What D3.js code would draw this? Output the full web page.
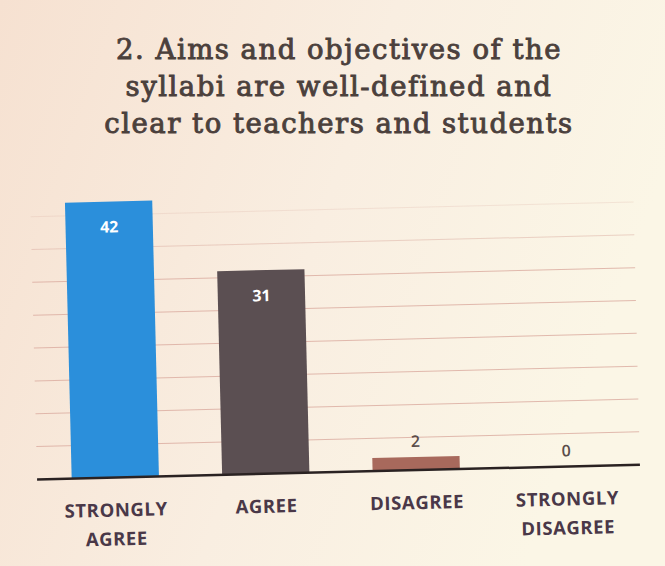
<!DOCTYPE html>
<html>
<head>
<meta charset="utf-8">
<script src="https://cdn.jsdelivr.net/npm/d3@7"></script>
<style>
  body { margin: 0; }
  svg { display: block; }
</style>
</head>
<body>
<svg id="chart" width="665" height="566"></svg>
<script>
// data
const categories = [["STRONGLY", "AGREE"], ["AGREE"], ["DISAGREE"], ["STRONGLY", "DISAGREE"]];
const values = [42, 31, 2, 0];
const barColors = ["#2b8fdb", "#5b4f52", "#a8695c", "#888888"];
const gridTicks = [5, 10, 15, 20, 25, 30, 35, 40];
const titleLines = ["2. Aims and objectives of the", "syllabi are well-defined and", "clear to teachers and students"];

const width = 665, height = 566;
const svg = d3.select("svg#chart");

// photo-ish background
const defs = svg.append("defs");
const bg = defs.append("linearGradient").attr("id", "bg")
  .attr("x1", "0").attr("y1", "0").attr("x2", "1").attr("y2", "0.3");
bg.append("stop").attr("offset", "0").attr("stop-color", "#f6e1d1");
bg.append("stop").attr("offset", "0.55").attr("stop-color", "#f9eee1");
bg.append("stop").attr("offset", "1").attr("stop-color", "#fbf6e6");
svg.append("rect").attr("width", width).attr("height", height).attr("fill", "url(#bg)");

// title
svg.append("g").selectAll("text")
  .data(titleLines)
  .join("text")
  .attr("x", 339)
  .attr("y", (d, i) => 59 + i * 37)
  .attr("text-anchor", "middle")
  .attr("font-family", "'DejaVu Serif', 'Liberation Serif', serif")
  .attr("font-size", 27.5)
  .attr("letter-spacing", 1.5)
  .attr("fill", "#4b403c")
  .attr("stroke", "#4b403c")
  .attr("stroke-width", 0.9)
  .text(d => d);

// plot, tilted a little like the photo
const baseY = 472;
const plot = svg.append("g").attr("transform", "rotate(-1.4, 340, " + baseY + ")");

const x = d3.scaleBand()
  .domain(d3.range(values.length))
  .range([40, 642])
  .paddingInner(0.42)
  .paddingOuter(0.21);

const y = d3.scaleLinear()
  .domain([0, 45])
  .range([baseY, baseY - 45 * 6.57]);

// gridlines
plot.append("g").selectAll("line")
  .data(gridTicks)
  .join("line")
  .attr("x1", 37).attr("x2", 640)
  .attr("y1", d => y(d)).attr("y2", d => y(d))
  .attr("stroke", "#dcaea2")
  .attr("stroke-opacity", d => d >= 40 ? 0.25 : (d >= 35 ? 0.5 : 0.85))
  .attr("stroke-width", 1);

// bars
plot.append("g").selectAll("rect")
  .data(values)
  .join("rect")
  .attr("x", (d, i) => x(i))
  .attr("y", d => y(d))
  .attr("width", x.bandwidth())
  .attr("height", d => y(0) - y(d))
  .attr("fill", (d, i) => barColors[i]);

// baseline
plot.append("line")
  .attr("x1", 37).attr("x2", 640)
  .attr("y1", y(0)).attr("y2", y(0))
  .attr("stroke", "#2a2222").attr("stroke-width", 2.5);

// value labels
plot.append("g").selectAll("text")
  .data(values)
  .join("text")
  .attr("x", (d, i) => x(i) + x.bandwidth() / 2)
  .attr("y", d => d > 5 ? y(d) + 31 : y(d) - 10)
  .attr("text-anchor", "middle")
  .attr("font-family", "'Open Sans', 'DejaVu Sans', sans-serif")
  .attr("font-weight", d => d > 5 ? "bold" : 600)
  .attr("font-size", 16)
  .attr("fill", d => d > 5 ? "#ffffff" : "#5a4d4a")
  .text(d => d);

// category labels
const cat = plot.append("g").selectAll("text")
  .data(categories)
  .join("text")
  .attr("x", (d, i) => x(i) + x.bandwidth() / 2)
  .attr("y", y(0) + 39)
  .attr("text-anchor", "middle")
  .attr("font-family", "'Open Sans', 'DejaVu Sans', sans-serif")
  .attr("font-weight", "bold")
  .attr("font-size", 18.5)
  .attr("letter-spacing", 0.6)
  .attr("fill", "#4a3848");

cat.selectAll("tspan")
  .data(d => d)
  .join("tspan")
  .attr("x", function() { return d3.select(this.parentNode).attr("x"); })
  .attr("dy", (d, i) => i === 0 ? 0 : 29)
  .text(d => d);
</script>
</body>
</html>
